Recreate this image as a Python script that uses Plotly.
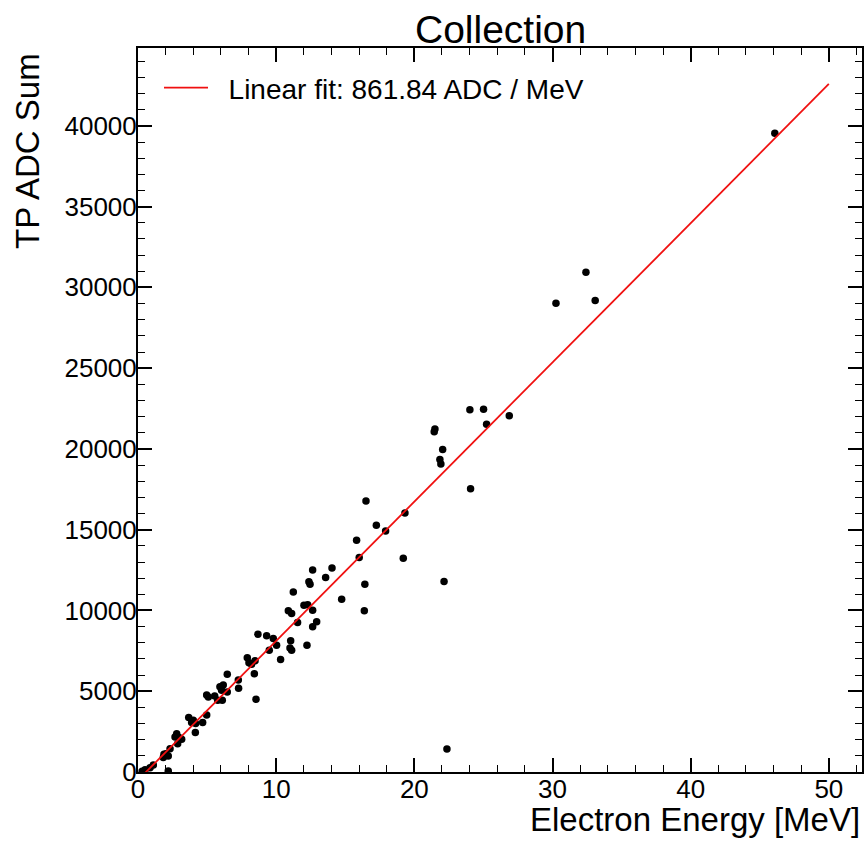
import plotly.graph_objects as go

# Electron energy [MeV] and TP ADC sum
energy = [12.64, 14.04, 12.37, 12.45, 13.58, 16.42, 14.74, 16.38, 11.24, 10.88,
          11.12, 12.01, 12.28, 12.64, 11.55, 12.93, 12.64, 12.23, 8.68, 9.31,
          9.79, 10.03, 9.50, 10.32, 11.05, 11.12, 11.00, 7.91, 8.03, 8.22,
          8.47, 8.42, 8.54, 7.26, 7.28, 6.46, 6.17, 5.93, 6.05, 6.46,
          5.77, 6.10, 4.97, 5.09, 5.55, 4.97, 4.68, 4.15, 3.67, 4.00,
          4.17, 3.88, 2.80, 2.97, 2.87, 3.16, 2.68, 1.88, 2.03, 2.32,
          1.83, 2.19, 1.11, 0.87, 0.51, 2.19, 0.30,
          24.02, 25.01, 26.87, 25.23, 21.49, 21.44, 22.05, 21.85, 21.92, 24.07,
          16.50, 19.32, 17.25, 17.92, 15.82, 16.01, 19.20, 22.15,
          32.42, 30.25, 33.09, 46.09, 22.36]
adc_sum = [12500, 12625, 11775, 11630, 12040, 11630, 10700, 9980, 11150, 9980,
           9810, 10330, 10350, 10020, 9250, 9300, 8990, 7850, 8530, 8430,
           8260, 7850, 7540, 6960, 8120, 7540, 7670, 7080, 6770, 6670,
           6880, 6090, 4500, 5700, 5190, 6050, 5390, 5270, 5060, 4960,
           4440, 4440, 4770, 4650, 4710, 3530, 3060, 2440, 3370, 3200,
           3000, 3060, 2370, 2130, 1750, 2030, 2170, 1100, 1130, 1440,
           890, 990, 430, 270, 140, 60, 50,
           22420, 22460, 22060, 21530, 21240, 21070, 19960, 19340, 19070, 17540,
           16780, 16030, 15270, 14920, 14340, 13280, 13240, 11790,
           30930, 29020, 29190, 39540, 1425]

fit_slope = 861.84
fit_intercept = -500.0
fit_x = [0.0, 50.0]
fit_y = [fit_slope * v + fit_intercept for v in fit_x]

FONT = "Liberation Sans"

fig = go.Figure()
fig.add_trace(go.Scatter(
    x=energy, y=adc_sum, mode="markers",
    marker=dict(color="black", size=7.5, line=dict(width=0)),
    showlegend=False, cliponaxis=True))
fig.add_trace(go.Scatter(
    x=fit_x, y=fit_y, mode="lines",
    line=dict(color="#f01010", width=1.8),
    name="\u00a0\u00a0Linear fit: 861.84 ADC / MeV"))

axis_common = dict(
    showgrid=False, zeroline=False, automargin=False,
    showline=True, linecolor="black", linewidth=2, mirror="allticks",
    ticks="inside", ticklen=14, tickwidth=1.5, tickcolor="black",
    tickformat="d",
    tickfont=dict(family=FONT, size=26, color="black"),
)

fig.update_xaxes(range=[0, 52.4], tick0=0, dtick=10, ticklabelstandoff=-7,
                 minor=dict(ticks="inside", ticklen=7, tickwidth=1.2,
                            tickcolor="black", dtick=2, showgrid=False),
                 **axis_common)
fig.update_yaxes(range=[0, 44820], tick0=0, dtick=5000, ticklabelstandoff=-6,
                 minor=dict(ticks="inside", ticklen=7, tickwidth=1.2,
                            tickcolor="black", dtick=1000, showgrid=False),
                 **axis_common)

H = 724.0
fig.update_layout(
    width=866, height=842,
    margin=dict(l=138, r=4, t=48, b=70),
    plot_bgcolor="white", paper_bgcolor="white",
    font=dict(family=FONT, color="black"),
    legend=dict(x=(159 - 138) / H, y=(772 - 63) / H, xanchor="left", yanchor="top",
                itemwidth=44,
                bgcolor="rgba(0,0,0,0)", font=dict(family=FONT, size=28)),
    annotations=[
        dict(text="Collection", xref="paper", yref="paper", x=0.5,
             y=(772 - 30) / H, xanchor="center", yanchor="middle",
             showarrow=False, font=dict(family=FONT, size=39)),
        dict(text="Electron Energy [MeV]", xref="paper", yref="paper", x=1.0,
             y=(772 - 819) / H, xanchor="right", yanchor="middle",
             showarrow=False, font=dict(family=FONT, size=33)),
        dict(text="TP ADC Sum", xref="paper", yref="paper",
             x=(27 - 138) / H, y=(772 - 151) / H, textangle=-90,
             xanchor="center", yanchor="middle",
             showarrow=False, font=dict(family=FONT, size=33)),
    ],
)

fig.write_html("out.html", config={"displayModeBar": False},
               post_script="document.body.style.margin='0';")
